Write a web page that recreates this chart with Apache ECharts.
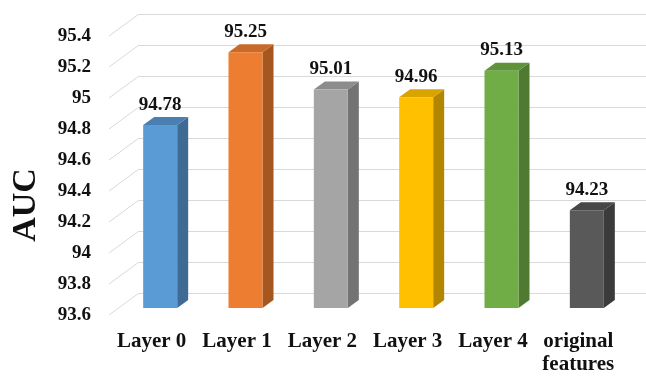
<!DOCTYPE html>
<html lang="en">

<head>
    <meta charset="UTF-8">
    <title>AUC by layer</title>
    <style type="text/css">
        html, body { margin: 0; padding: 0; background: #fff; }
        #main {
            height: 376px;
            width: 646px;
        }
    </style>
    <script src="https://cdn.jsdelivr.net/npm/echarts@6/dist/echarts.min.js"></script>
</head>

<body>
    <div id="main"></div>
    <script type="text/javascript">
        // data
        var categories = ['Layer 0', 'Layer 1', 'Layer 2', 'Layer 3', 'Layer 4', 'original\nfeatures'];
        var aucValues = [94.78, 95.25, 95.01, 94.96, 95.13, 94.23];
        var yTicks = [93.6, 93.8, 94, 94.2, 94.4, 94.6, 94.8, 95, 95.2, 95.4];

        // front / side / top colours of each bar
        var faceColors = ['#5b9bd5', '#ed7d31', '#a5a5a5', '#ffc000', '#70ad47', '#595959'];
        var sideColors = ['#3e6a94', '#a6571f', '#737373', '#b38600', '#4e7a31', '#3b3b3b'];
        var topColors = ['#4a7fb2', '#c96a29', '#8c8c8c', '#d9a300', '#5f9339', '#474747'];

        var yMin = 93.6, yMax = 95.4;
        var depthX = 30, depthY = -22;       // wall offset from front plane
        var barShiftX = 8.5, barShiftY = -7; // bar front offset from front plane
        var barDX = 11, barDY = -8;          // bar depth
        var barW = 34;
        var serif = '"Liberation Serif", "Times New Roman", serif';

        var barData = aucValues.map(function (v, i) { return [i, v]; });
        var tickData = yTicks.map(function (t) { return [0, t]; });

        var myChart = echarts.init(document.getElementById('main'));
        var option = {
            animation: false,
            grid: [
                { left: 109, top: 36, width: 512, height: 279 },
                { left: 109 + depthX, top: 36 + depthY, right: 0, height: 279 }
            ],
            xAxis: [
                {
                    type: 'category',
                    data: categories,
                    gridIndex: 0,
                    axisLine: { show: false },
                    axisTick: { show: false },
                    axisLabel: {
                        margin: 15,
                        fontFamily: serif,
                        fontWeight: 'bold',
                        fontSize: 21,
                        lineHeight: 23,
                        color: '#111',
                        interval: 0
                    }
                },
                { type: 'value', gridIndex: 1, show: false }
            ],
            yAxis: [
                {
                    type: 'value',
                    gridIndex: 0,
                    min: yMin,
                    max: yMax,
                    interval: 0.2,
                    axisLine: { show: false },
                    axisTick: { show: false },
                    splitLine: { show: false },
                    axisLabel: {
                        margin: 18,
                        fontFamily: serif,
                        fontWeight: 'bold',
                        fontSize: 19,
                        color: '#111'
                    }
                },
                {
                    type: 'value',
                    gridIndex: 1,
                    min: yMin,
                    max: yMax,
                    interval: 0.2,
                    axisLine: { show: false },
                    axisTick: { show: false },
                    axisLabel: { show: false },
                    splitLine: { show: true, lineStyle: { color: '#d9d9d9', width: 1 } }
                }
            ],
            graphic: [
                {
                    type: 'text',
                    x: 26,
                    y: 205,
                    rotation: Math.PI / 2,
                    style: {
                        text: 'AUC',
                        fontFamily: serif,
                        fontWeight: 'bold',
                        fontSize: 34,
                        fill: '#111',
                        align: 'center',
                        verticalAlign: 'middle'
                    }
                }
            ],
            series: [
                {
                    // diagonal lines from the tick labels to the back wall
                    type: 'custom',
                    xAxisIndex: 0,
                    yAxisIndex: 0,
                    silent: true,
                    data: tickData,
                    renderItem: function (params, api) {
                        var y = api.coord([0, api.value(1)])[1];
                        var x = params.coordSys.x;
                        return {
                            type: 'line',
                            shape: { x1: x, y1: y, x2: x + depthX, y2: y + depthY },
                            style: { stroke: '#d9d9d9', lineWidth: 1 }
                        };
                    }
                },
                {
                    type: 'custom',
                    xAxisIndex: 0,
                    yAxisIndex: 0,
                    data: barData,
                    renderItem: function (params, api) {
                        var i = api.value(0);
                        var v = api.value(1);
                        var p = api.coord([i, v]);
                        var base = api.coord([i, yMin]);
                        var x0 = p[0] + barShiftX - barW / 2;
                        var x1 = x0 + barW;
                        var yt = p[1] + barShiftY;
                        var yb = base[1] + barShiftY;
                        return {
                            type: 'group',
                            children: [
                                {
                                    type: 'polygon',
                                    shape: { points: [[x1, yt], [x1 + barDX, yt + barDY], [x1 + barDX, yb + barDY], [x1, yb]] },
                                    style: { fill: sideColors[i] }
                                },
                                {
                                    type: 'polygon',
                                    shape: { points: [[x0, yt], [x0 + barDX, yt + barDY], [x1 + barDX, yt + barDY], [x1, yt]] },
                                    style: { fill: topColors[i] }
                                },
                                {
                                    type: 'rect',
                                    shape: { x: x0, y: yt, width: barW, height: yb - yt },
                                    style: { fill: faceColors[i] }
                                },
                                {
                                    type: 'text',
                                    x: x0 + barW / 2,
                                    y: yt - 11,
                                    style: {
                                        text: v.toFixed(2),
                                        fontFamily: serif,
                                        fontWeight: 'bold',
                                        fontSize: 19,
                                        fill: '#111',
                                        align: 'center',
                                        verticalAlign: 'bottom'
                                    }
                                }
                            ]
                        };
                    }
                }
            ]
        };
        myChart.setOption(option);
    </script>
</body>

</html>
